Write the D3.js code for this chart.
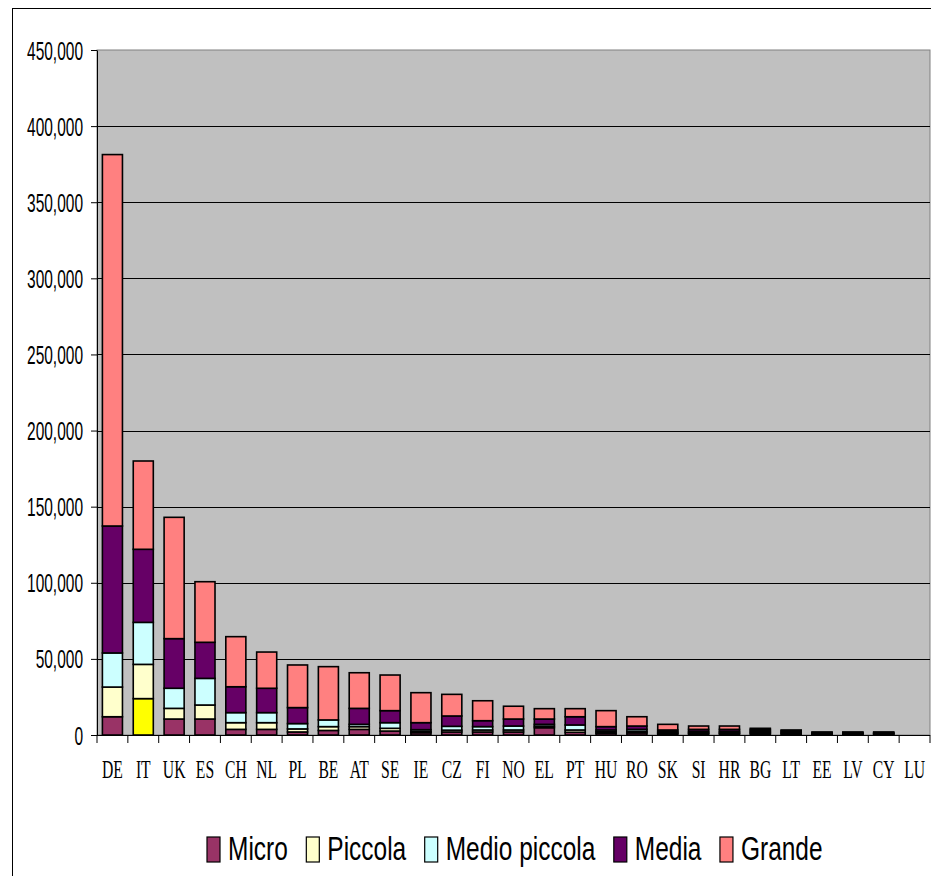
<!DOCTYPE html>
<html>
<head>
<meta charset="utf-8">
<script src="https://cdn.jsdelivr.net/npm/d3@7"></script>
<style>
body{margin:0;background:#fff}
</style>
</head>
<body>
<div id="chart"></div>
<script>
const countries = ["DE","IT","UK","ES","CH","NL","PL","BE","AT","SE","IE","CZ","FI","NO","EL","PT","HU","RO","SK","SI","HR","BG","LT","EE","LV","CY","LU"]

const micro   = [12000,23900,10500,10500,3700,3700,2000,3000,3700,2600,1500,2000,2000,2000,4800,1800,1200,1400,800,900,900,1000,700,400,400,400,0]
const piccola = [19500,22500,7000,9200,4400,4400,2000,2500,1800,1800,800,1200,1300,1300,1000,1500,900,1000,600,600,600,800,600,400,400,400,0]
const medio   = [22400,27600,13200,17500,6600,6600,3500,4400,1500,3700,1200,2500,2200,2600,1200,3300,1200,1300,800,900,900,900,700,400,400,400,0]
const media   = [83400,48000,32600,23700,17000,16000,10500,0,10500,7900,4600,6800,3900,4600,3500,5400,2200,2200,1100,1300,1300,1000,800,400,400,400,0]
const grande  = [244000,58000,79700,39800,32900,23800,28000,35000,23400,23400,19700,14200,13100,8400,6800,5300,10500,6100,3700,2200,2200,700,500,400,400,400,0]

const seriesNames  = ["Micro","Piccola","Medio piccola","Media","Grande"]
const seriesColors = ["#993366","#FFFFCC","#CCFFFF","#660066","#FF8080"]
const highlightCountry = "IT"
const highlightColor = "#FFFF00"

const yTicks = [0,50000,100000,150000,200000,250000,300000,350000,400000,450000]

drawChart("#chart")

function drawChart(id){
    const canvas = createCanvas()
    d3.select(id).html("")
    const svg = d3.select(id).append("svg")
        .attr("width",canvas.width).attr("height",canvas.height)

    const table = countries.map((c,i) => ({
        country: c,
        "Micro": micro[i], "Piccola": piccola[i], "Medio piccola": medio[i],
        "Media": media[i], "Grande": grande[i]
    }))

    const x = d3.scaleBand().domain(countries)
        .range([canvas.plot.left,canvas.plot.right])
        .paddingInner(0.35).paddingOuter(0.175)
    const y = d3.scaleLinear().domain([0,450000])
        .range([canvas.plot.bottom,canvas.plot.top])

    // outer chart frame (runs off the window on the right / bottom)
    svg.append("rect").attr("x",12.5).attr("y",8.5).attr("width",960).attr("height",900)
        .attr("fill","#fff").attr("stroke","#000").attr("stroke-width",1)

    drawPlotArea(svg,canvas,x,y)
    drawBars(svg,table,x,y)
    drawAxes(svg,canvas,x,y)
    drawLegend(svg)
}

function createCanvas(){
    return {
        width: 931, height: 876,
        plot: {left: 97, right: 930, top: 50, bottom: 735}
    }
}

function drawPlotArea(svg,canvas,x,y){
    const p = canvas.plot
    svg.append("rect").attr("x",p.left).attr("y",p.top)
        .attr("width",p.right-p.left).attr("height",p.bottom-p.top)
        .attr("fill","#C0C0C0").attr("stroke","#808080").attr("stroke-width",1)

    svg.append("g").selectAll("line").data(yTicks.filter(t => t > 0 && t < 450000)).enter()
        .append("line")
        .attr("x1",p.left).attr("x2",p.right)
        .attr("y1",d => Math.round(y(d))+0.5).attr("y2",d => Math.round(y(d))+0.5)
        .attr("stroke","#000").attr("stroke-width",1)
}

function drawBars(svg,table,x,y){
    const stack = d3.stack().keys(seriesNames)(table)

    const layers = svg.append("g").selectAll("g").data(stack).enter()
        .append("g")

    layers.selectAll("rect").data(d => d.filter(s => s[1]-s[0] > 0)).enter()
        .append("rect")
        .attr("x",d => x(d.data.country))
        .attr("width",x.bandwidth())
        .attr("y",d => y(d[1]))
        .attr("height",d => y(d[0]) - y(d[1]))
        .attr("fill",function(d){
            const key = d3.select(this.parentNode).datum().key
            if(key === "Micro" && d.data.country === highlightCountry) return highlightColor
            return seriesColors[seriesNames.indexOf(key)]
        })
        .attr("stroke","#000").attr("stroke-width",1.6)
}

function drawAxes(svg,canvas,x,y){
    const p = canvas.plot

    const yAxis = svg.append("g").attr("transform",`translate(${p.left},0)`)
        .call(d3.axisLeft(y).tickValues(yTicks).tickFormat(d3.format(",")).tickSize(6).tickSizeOuter(0))
    yAxis.select(".domain").attr("stroke","#000")
    yAxis.selectAll(".tick line").attr("stroke","#000")
    yAxis.selectAll(".tick text")
        .attr("x",-14/0.62).attr("dy","0.36em")
        .attr("transform","scale(0.62,1)")
        .attr("font-family","'Liberation Sans', Arial, sans-serif")
        .attr("font-size",25).attr("fill","#000")

    // category boundary ticks
    const bounds = d3.range(countries.length+1).map(i => p.left + i*x.step())
    svg.append("g").selectAll("line").data(bounds).enter()
        .append("line")
        .attr("x1",d => d).attr("x2",d => d)
        .attr("y1",p.bottom).attr("y2",p.bottom+8)
        .attr("stroke","#000").attr("stroke-width",1)

    svg.append("line").attr("x1",p.left).attr("x2",p.right)
        .attr("y1",p.bottom+0.5).attr("y2",p.bottom+0.5)
        .attr("stroke","#000").attr("stroke-width",1)

    const xAxis = svg.append("g").attr("transform",`translate(0,${p.bottom})`)
        .call(d3.axisBottom(x).tickSize(0))
    xAxis.select(".domain").remove()
    xAxis.selectAll(".tick text")
        .attr("y",43).attr("dy",0)
        .attr("transform","scale(0.64,1)")
        .attr("font-family","'Liberation Serif', 'Times New Roman', serif")
        .attr("font-size",24.5).attr("fill","#000")
}

function drawLegend(svg){
    const sx = 0.72
    const g = svg.append("g")
    let cx = 207
    seriesNames.forEach((name,i) => {
        g.append("rect").attr("x",cx).attr("y",837).attr("width",13).attr("height",25)
            .attr("fill",seriesColors[i]).attr("stroke","#000").attr("stroke-width",1.2)
        const t = g.append("text")
            .attr("transform",`translate(${cx+21},859.5) scale(${sx},1)`)
            .attr("font-family","'Liberation Sans', Arial, sans-serif")
            .attr("font-size",34).attr("fill","#000")
            .text(name)
        cx += 21 + t.node().getComputedTextLength()*sx + 18.5
    })
}
</script>
</body>
</html>
